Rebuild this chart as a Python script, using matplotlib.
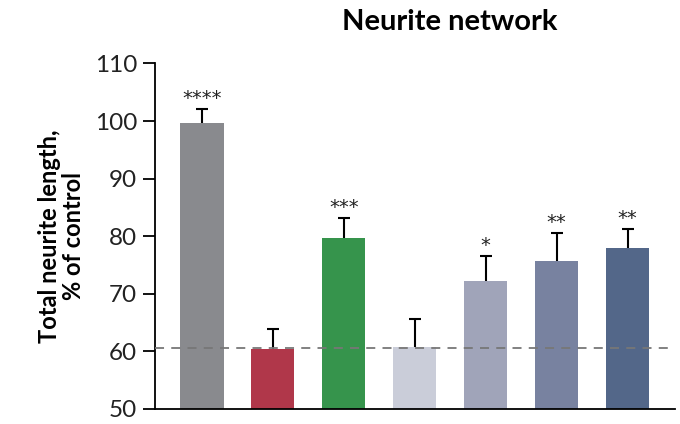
import matplotlib
matplotlib.use('Agg')
import matplotlib.pyplot as plt

# values
groups = ['g1', 'g2', 'g3', 'g4', 'g5', 'g6', 'g7']
means = [99.7, 60.4, 79.7, 60.8, 72.3, 75.7, 78.0]
errs = [2.4, 3.5, 3.5, 4.9, 4.3, 4.9, 3.3]
stars = ['****', '', '***', '', '*', '**', '**']
colors = ['#898a8e', '#b0374a', '#36944c', '#cacdd9', '#a0a4b9', '#7882a0', '#536789']
baseline = 60.6
yticks = [50, 60, 70, 80, 90, 100, 110]

plt.rcParams['font.family'] = ['Lato', 'DejaVu Sans']

fig = plt.figure(figsize=(6.8, 4.24), dpi=100)
ax = fig.add_axes([0.228, 0.0354, 0.765, 0.815])

x = list(range(len(groups)))
ax.bar(x, means, width=0.61, color=colors, zorder=2)
eb = ax.errorbar(x, means, yerr=[[0] * len(errs), errs], fmt='none', ecolor='black',
                 elinewidth=1.5, capsize=4.5, capthick=1.5, zorder=3)
# only the upper cap
eb[1][0].set_visible(False)

for xi, m, e, s in zip(x, means, errs, stars):
    if s:
        ax.text(xi, m + e + 0.9, s, ha='center', va='baseline', fontsize=14,
                color='#222222', family='DejaVu Sans')

ax.axhline(baseline, color='#777777', linestyle=(0, (5, 4)), linewidth=1.3, zorder=4)

ax.set_ylim(50, 110)
ax.set_xlim(-0.66, 6.67)
ax.set_yticks(yticks)
ax.set_yticklabels([str(t) for t in yticks], fontsize=17.5, color='#222222')
ax.set_xticks([])
ax.tick_params(axis='y', direction='out', length=9, width=1.3, pad=4)
for side in ['top', 'right']:
    ax.spines[side].set_visible(False)
ax.spines['left'].set_linewidth(1.3)
ax.spines['bottom'].set_linewidth(1.3)
ax.set_ylabel('Total neurite length,\n% of control', fontsize=17, fontweight='bold',
              labelpad=7, linespacing=1.05)

fig.text(0.662, 0.948, 'Neurite network', ha='center', va='center', fontsize=21, fontweight='bold')

fig.savefig('out.png', dpi=100)
